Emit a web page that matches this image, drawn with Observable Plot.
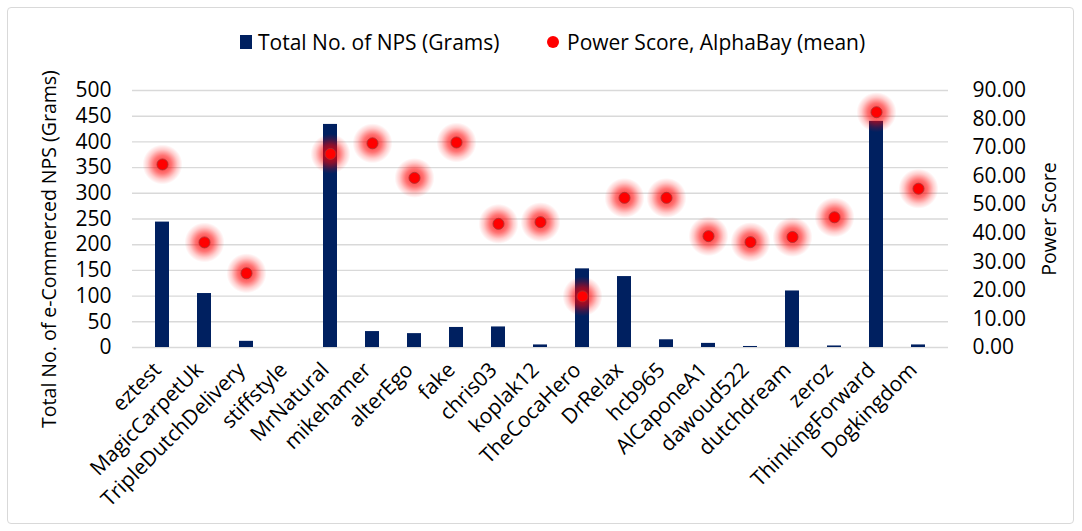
<!DOCTYPE html>
<html>
<head>
<meta charset="utf-8">
<script src="https://cdn.jsdelivr.net/npm/d3@7"></script>
<script src="https://cdn.jsdelivr.net/npm/@observablehq/plot@0.6"></script>
<style>
  html, body { margin: 0; padding: 0; background: #fff; }
  #wrap { position: relative; width: 1082px; height: 531px; font-family: "Open Sans", sans-serif; }
  #frame { position: absolute; left: 7px; top: 7px; width: 1067px; height: 517px; border: 1px solid #d9d9d9; border-radius: 4px; box-sizing: border-box; }
  #legend { position: absolute; top: 27px; left: 0; width: 1082px; height: 30px; font-size: 21px; color: #000; }
  .item { position: absolute; top: 0; display: flex; align-items: center; height: 30px; white-space: nowrap; }
  .sq { width: 12px; height: 14px; background: #002060; margin-right: 6px; }
  .dt { width: 12px; height: 12px; border-radius: 50%; background: #ff0000; margin-right: 8px; }
  #chart { position: absolute; left: 0; top: 0; }
</style>
</head>
<body>
<div id="wrap">
  <div id="frame"></div>
  <div id="chart"></div>
  <div id="legend">
    <div class="item" style="left:240px"><div class="sq"></div><span id="l1"></span></div>
    <div class="item" style="left:547px"><div class="dt"></div><span id="l2"></span></div>
  </div>
</div>
<script>
const names = ["eztest","MagicCarpetUk","TripleDutchDelivery","stiffstyle","MrNatural","mikehamer","alterEgo","fake","chris03","koplak12","TheCocaHero","DrRelax","hcb965","AlCaponeA1","dawoud522","dutchdream","zeroz","ThinkingForward","Dogkingdom"];
const grams = [244,105,12,0,434,31,27,39,40,5,153,138,15,8,2,110,3,440,5];
const power = [64.1,36.8,26.0,null,67.8,71.5,59.4,71.8,43.3,43.9,17.9,52.4,52.4,39.0,36.9,38.7,45.6,82.4,55.6];
const gramTicks = [0,50,100,150,200,250,300,350,400,450,500];
const powerTicks = [0,10,20,30,40,50,60,70,80,90];
const seriesNames = ["Total No. of NPS (Grams)", "Power Score, AlphaBay (mean)"];
const leftTitle = "Total No. of e-Commerced NPS (Grams)";
const rightTitle = "Power Score";

document.getElementById("l1").textContent = seriesNames[0];
document.getElementById("l2").textContent = seriesNames[1];

const k = 500 / 90; // right axis (0–90) mapped on left axis (0–500)
const rows = names.map((n, i) => ({name: n, grams: grams[i], power: power[i]}));
const pts = rows.filter(d => d.power != null);

const chart = Plot.plot({
  width: 1082,
  height: 531,
  marginTop: 90,
  marginBottom: 184,
  marginLeft: 132,
  marginRight: 134,
  style: {fontFamily: "'Open Sans', sans-serif", fontSize: "21px", color: "#000", background: "transparent", overflow: "visible"},
  x: {domain: names, padding: 0, label: null},
  y: {domain: [0, 500], label: null},
  marks: [
    Plot.ruleY(gramTicks, {stroke: "#d9d9d9", strokeWidth: 1.4}),
    Plot.axisY(gramTicks, {anchor: "left", tickSize: 0, tickPadding: 21, label: null, fontSize: 21}),
    Plot.axisY(powerTicks.map(v => v * k), {anchor: "right", tickSize: 0, tickPadding: 24, label: null, fontSize: 21, tickFormat: d => (d / k).toFixed(2)}),
    Plot.axisX({tickSize: 0, tickRotate: -45, tickPadding: 19, dx: -5, label: null, fontSize: 21}),
    Plot.barY(rows, {x: "name", y: "grams", fill: "#002060", insetLeft: 14, insetRight: 14}),
    Plot.dot(pts, {x: "name", y: d => d.power * k, r: 20, fill: "url(#glow)"}),
    Plot.dot(pts, {x: "name", y: d => d.power * k, r: 5.5, fill: "#ff0000", stroke: "#a33", strokeWidth: 0.8}),
    Plot.text([leftTitle], {frameAnchor: "left", textAnchor: "middle", rotate: -90, dx: -83, dy: 30, fontSize: 19.5, fill: "#000"}),
    Plot.text([rightTitle], {frameAnchor: "right", textAnchor: "middle", rotate: -90, dx: 101, fontSize: 19.5, fill: "#000"})
  ]
});

const defs = d3.select(chart).insert("defs", ":first-child");
const g = defs.append("radialGradient").attr("id", "glow");
g.append("stop").attr("offset", "0%").attr("stop-color", "#ff0000").attr("stop-opacity", 0.85);
g.append("stop").attr("offset", "45%").attr("stop-color", "#ff0000").attr("stop-opacity", 0.55);
g.append("stop").attr("offset", "75%").attr("stop-color", "#ff0000").attr("stop-opacity", 0.2);
g.append("stop").attr("offset", "100%").attr("stop-color", "#ff0000").attr("stop-opacity", 0);

document.getElementById("chart").appendChild(chart);
</script>
</body>
</html>
